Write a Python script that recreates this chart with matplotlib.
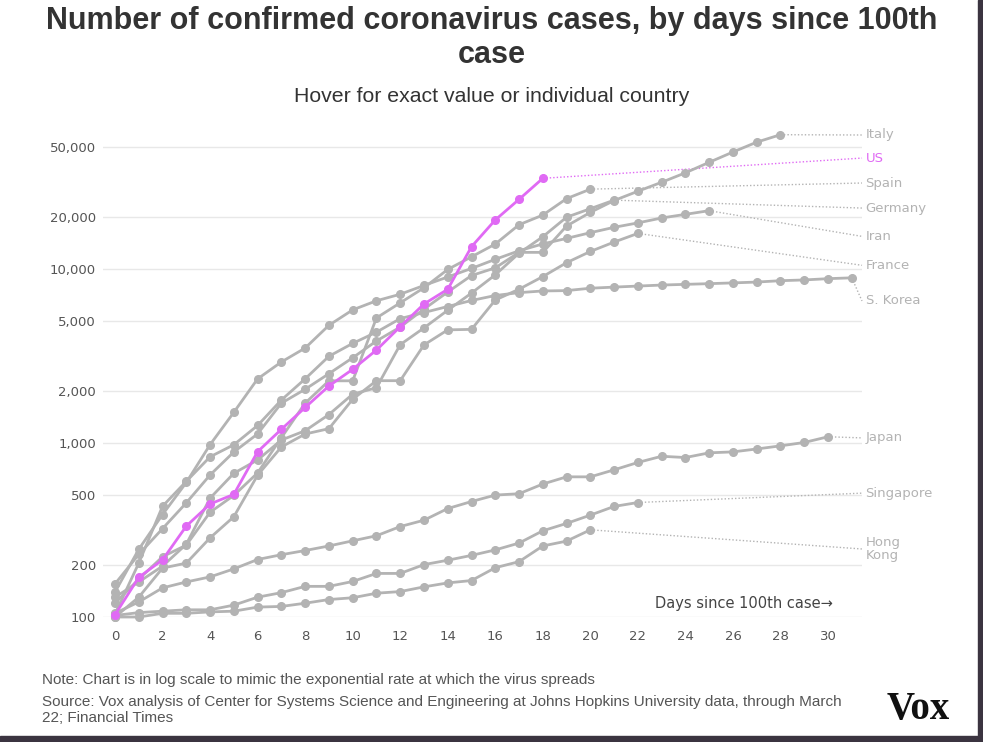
import numpy as np
import matplotlib
matplotlib.use("Agg")
import matplotlib.pyplot as plt
from matplotlib.patches import Rectangle

# datos: casos confirmados por dia desde el caso 100
italy = [155, 229, 322, 453, 655, 888, 1128, 1694, 2036, 2502, 3089, 3858, 4636, 5883,
         7375, 9172, 10149, 12462, 12462, 17660, 21157, 24747, 27980, 31506, 35713,
         41035, 47021, 53578, 59138]
us = [103, 169, 213, 333, 446, 507, 891, 1199, 1600, 2126, 2652, 3421, 4660, 6290,
      7650, 13430, 19140, 25130, 33200]
spain = [120, 165, 222, 259, 400, 500, 673, 1073, 1695, 2277, 2277, 5232, 6391, 7798,
         9942, 11748, 13910, 17963, 20410, 25374, 28768]
germany = [130, 159, 196, 262, 482, 670, 799, 1040, 1176, 1457, 1908, 2078, 3675, 4585,
           5795, 7272, 9257, 12327, 15320, 19848, 22213, 24873]
iran = [139, 245, 388, 593, 978, 1501, 2336, 2922, 3513, 4747, 5823, 6566, 7161, 8042,
        9000, 10075, 11364, 12729, 13938, 14991, 16169, 17361, 18407, 19644, 20610, 21638]
france = [100, 130, 191, 204, 285, 377, 653, 949, 1126, 1209, 1784, 2281, 2281, 3661,
          4469, 4499, 6633, 7652, 9043, 10871, 12612, 14282, 16018]
korea = [104, 204, 433, 602, 833, 977, 1261, 1766, 2337, 3150, 3736, 4335, 5186, 5621,
         6088, 6593, 7041, 7314, 7478, 7513, 7755, 7869, 7979, 8086, 8162, 8236, 8320,
         8413, 8565, 8652, 8799, 8897]
japan = [105, 122, 147, 159, 170, 189, 214, 228, 241, 256, 274, 293, 331, 360, 420, 461,
         502, 511, 581, 639, 639, 701, 773, 839, 825, 878, 889, 924, 963, 1007, 1086]
singapore = [102, 106, 108, 110, 110, 117, 130, 138, 150, 150, 160, 178, 178, 200, 212,
             226, 243, 266, 313, 345, 385, 432, 455]
hongkong = [100, 100, 105, 105, 107, 108, 114, 115, 120, 126, 129, 137, 140, 149, 157,
            162, 192, 208, 256, 273, 317]

names = ["Italy", "US", "Spain", "Germany", "Iran", "France", "S. Korea", "Japan",
         "Singapore", "Hong\nKong"]
series = [italy, us, spain, germany, iran, france, korea, japan, singapore, hongkong]

y_ticks = [100, 200, 500, 1000, 2000, 5000, 10000, 20000, 50000]
x_ticks = list(range(0, 31, 2))

# donde van las etiquetas de la derecha (en casos)
label_y = [58900, 43400, 31200, 22400, 15400, 10500, 6550, 1070, 515, 246]

gris = "#b3b3b3"
rosa = "#e06af4"

fig = plt.figure(figsize=(9.83, 7.42), dpi=100)
ax = fig.add_axes([103 / 983, 1 - 617 / 742, 759 / 983, 492 / 742])
ax.set_yscale("log")
ax.set_xlim(-0.505, 31.43)
ax.set_ylim(100, 10 ** (2 + 492 / 174))

for sp in ax.spines.values():
    sp.set_visible(False)
ax.yaxis.set_major_locator(matplotlib.ticker.FixedLocator(y_ticks))
ax.yaxis.set_minor_locator(matplotlib.ticker.NullLocator())
ax.set_yticklabels([f"{v:,}" for v in y_ticks])
ax.set_xticks(x_ticks)
ax.tick_params(axis="y", length=0, pad=5, labelsize=9.5, labelcolor="#555555")
ax.tick_params(axis="x", length=0, pad=9, labelsize=9.5, labelcolor="#555555")
ax.grid(axis="y", color="#e8e8e8", lw=1)
ax.set_axisbelow(True)

x_lab = 31.43
for nombre, vals, ly in zip(names, series, label_y):
    color = rosa if nombre == "US" else gris
    dias = np.arange(len(vals))
    z = 5 if nombre == "US" else 3
    ax.plot(dias, vals, color=color, lw=2, marker="o", ms=5.5, zorder=z, clip_on=False)
    # linea punteada hasta la etiqueta
    ax.plot([dias[-1], x_lab], [vals[-1], ly], color=color, lw=1,
            ls=(0, (1, 1.5)), zorder=2, clip_on=False)
    ax.text(x_lab + 0.15, ly, nombre, color=color, fontsize=9.5, va="center",
            ha="left", linespacing=0.95)

ax.text(30.2, 108, "Days since 100th case\u2192", ha="right", va="bottom",
        fontsize=10.5, color="#444444")

fig.text(0.5, 1 - 6 / 742, "Number of confirmed coronavirus cases, by days since 100th\ncase",
         ha="center", va="top", fontsize=22, fontweight="bold", color="#333333",
         family="Liberation Sans", linespacing=1.18)
fig.text(0.5, 1 - 97 / 742, "Hover for exact value or individual country",
         ha="center", va="center", fontsize=15.3, color="#333333", family="Liberation Sans")

fig.text(42 / 983, 1 - 680 / 742,
         "Note: Chart is in log scale to mimic the exponential rate at which the virus spreads",
         ha="left", va="center", fontsize=11, color="#555555", family="Liberation Sans")
fig.text(42 / 983, 1 - 710 / 742,
         "Source: Vox analysis of Center for Systems Science and Engineering at Johns Hopkins University data, through March\n22; Financial Times",
         ha="left", va="center", fontsize=11, color="#555555", family="Liberation Sans",
         linespacing=1.15)
fig.text(918 / 983, 1 - 710 / 742, "Vox", ha="center", va="center", fontsize=28,
         fontweight="bold", family="Liberation Serif", color="#111111")

# marco oscuro abajo y a la derecha
fig.patches.append(Rectangle((978 / 983, 0), 5 / 983, 1, transform=fig.transFigure,
                             color="#3b3440", zorder=10))
fig.patches.append(Rectangle((0, 0), 1, 6 / 742, transform=fig.transFigure,
                             color="#3b3440", zorder=10))

fig.savefig("out.png", dpi=100)
